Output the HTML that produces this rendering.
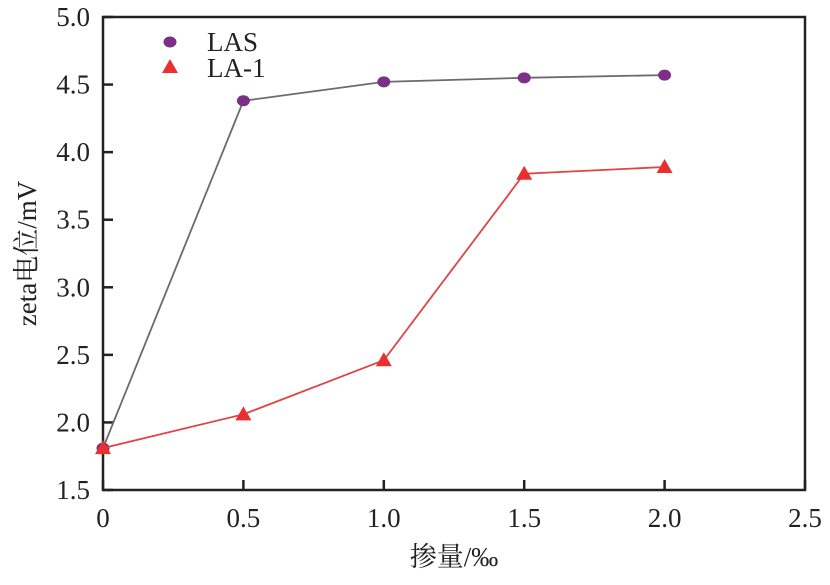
<!DOCTYPE html>
<html><head><meta charset="utf-8"><style>
body{margin:0;background:#fff}
svg text{font-family:"Liberation Serif","Noto Serif CJK SC",serif;fill:#222}
</style></head><body>
<svg width="830" height="580">
<g id="grid"></g>
</svg>
<script>
const xCats=[0,0.5,1.0,1.5,2.0];
const lasVals=[1.81,4.38,4.52,4.55,4.57];
const la1Vals=[1.81,2.06,2.46,3.84,3.89];
const xTicks=[0,0.5,1.0,1.5,2.0,2.5];
const xTickLabels=["0","0.5","1.0","1.5","2.0","2.5"];
const yTicks=[1.5,2.0,2.5,3.0,3.5,4.0,4.5,5.0];
const yTickLabels=["1.5","2.0","2.5","3.0","3.5","4.0","4.5","5.0"];
const L=103,R=805,T=17,B=490;
const sx=v=>L+(v-0)/(2.5)*(R-L);
const sy=v=>B-(v-1.5)/(3.5)*(B-T);
const svg=document.querySelector('svg');
const NS='http://www.w3.org/2000/svg';
function mk(tag,attrs,parent){const e=document.createElementNS(NS,tag);for(const k in attrs)e.setAttribute(k,attrs[k]);(parent||svg).appendChild(e);return e;}
let frame=mk('rect',{x:L,y:T,width:R-L,height:B-T,fill:'none',stroke:'#222','stroke-width':2.5});


xTicks.forEach((v,i)=>{
 let t=mk('line',{x1:sx(v),x2:sx(v),y1:B,y2:B-10,stroke:'#222','stroke-width':2.5});
 
 
 let tx=mk('text',{x:sx(v),y:B+37,'text-anchor':'middle','font-size':27});
 tx.textContent=xTickLabels[i];
 
 
});
yTicks.forEach((v,i)=>{
 let t=mk('line',{x1:L,x2:L+10,y1:sy(v),y2:sy(v),stroke:'#222','stroke-width':2.5});
 
 
 let tx=mk('text',{x:L-13,y:sy(v)+9,'text-anchor':'end','font-size':27});
 tx.textContent=yTickLabels[i];
 
 
});
let xt=mk('text',{x:454,y:566,'text-anchor':'middle','font-size':27});
xt.textContent='掺量/‰';


let yt=mk('text',{x:0,y:0,'text-anchor':'middle','font-size':27,transform:`translate(36,${(T+B)/2}) rotate(-90)`});
yt.textContent='zeta电位/mV';


function series(vals,color,lineColor,shape,name){
 let pl=mk('polyline',{points:vals.map((v,i)=>sx(xCats[i])+','+sy(v)).join(' '),fill:'none',stroke:lineColor,'stroke-width':1.8});
 
 
 vals.forEach((v,i)=>{
  const x=sx(xCats[i]),y=sy(v);
  let m=shape==='circle'?mk('ellipse',{cx:x,cy:y,rx:6.5,ry:5.5,fill:color}):mk('polygon',{points:`${x},${y-8} ${x-8},${y+6} ${x+8},${y+6}`,fill:color});
  
  
 });
}
series(lasVals,'#7b2f86','#6b6b6b','circle','las');
series(la1Vals,'#e8302f','#e04444','tri','la1');
let l1=mk('ellipse',{cx:170,cy:42,rx:6.5,ry:5.5,fill:'#7b2f86'});


let l1t=mk('text',{x:207,y:51,'font-size':27});l1t.textContent='LAS';


let l2=mk('polygon',{points:'170,59 162,73 178,73',fill:'#e8302f'});


let l2t=mk('text',{x:207,y:77,'font-size':27});l2t.textContent='LA-1';


</script>
</body></html>
